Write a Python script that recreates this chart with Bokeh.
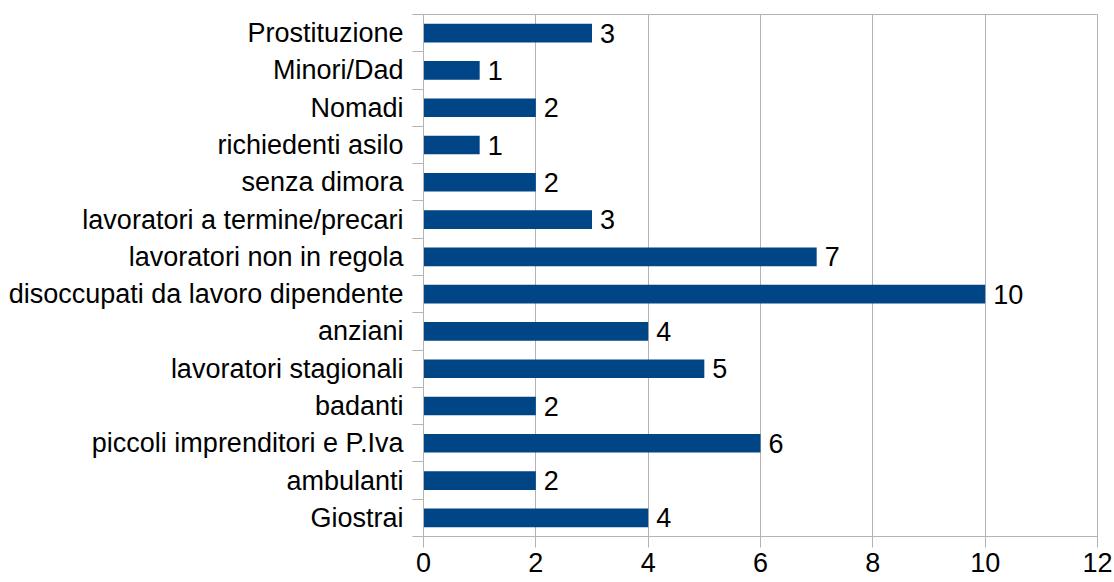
from bokeh.plotting import figure
from bokeh.models import Range1d, FixedTicker, ColumnDataSource
from bokeh.core.properties import value
from bokeh.embed import file_html
from bokeh.resources import INLINE

categories = ["Prostituzione", "Minori/Dad", "Nomadi", "richiedenti asilo", "senza dimora",
              "lavoratori a termine/precari", "lavoratori non in regola",
              "disoccupati da lavoro dipendente", "anziani", "lavoratori stagionali",
              "badanti", "piccoli imprenditori e P.Iva", "ambulanti", "Giostrai"]
counts = [3, 1, 2, 1, 2, 3, 7, 10, 4, 5, 2, 6, 2, 4]
x_ticks = [0, 2, 4, 6, 8, 10, 12]

n = len(categories)
pos = [n - i for i in range(n)]  # top category at highest position
src = ColumnDataSource(dict(y=pos, v=counts, lab=[str(c) for c in counts], cat=categories))

FONT = "Liberation Sans"
FS = "27px"
GRID = "#b3b3b3"

p = figure(width=1114, height=582, output_backend="svg", toolbar_location=None,
           x_range=Range1d(0, 12), y_range=Range1d(0.5, n + 0.5),
           min_border_left=423, min_border_right=17, min_border_top=14, min_border_bottom=46)
p.outline_line_color = GRID
p.outline_line_width = 1
p.background_fill_color = "white"
p.border_fill_color = "white"

p.hbar(y="y", left=0, right="v", height=0.5, source=src, fill_color="#004586", line_color=None)
p.text(x="v", y="y", text="lab", source=src, x_offset=8, text_baseline="middle", text_align="left",
       text_font=value(FONT), text_font_size=FS, text_color="#000000")

# x axis
xa = p.xaxis[0]
xa.ticker = FixedTicker(ticks=x_ticks, minor_ticks=[])
xa.axis_line_color = GRID
xa.major_tick_line_color = GRID
xa.major_tick_out = 11
xa.major_tick_in = 0
xa.minor_tick_line_color = None
xa.minor_tick_out = 0
xa.major_label_standoff = 5
xa.major_label_text_font = FONT
xa.major_label_text_font_size = FS
xa.major_label_text_color = "#000000"

# y axis
ya = p.yaxis[0]
ya.ticker = FixedTicker(ticks=pos, minor_ticks=[k + 0.5 for k in range(0, n + 1)])
ya.major_label_overrides = {pv: c for pv, c in zip(pos, categories)}
ya.axis_line_color = GRID
ya.major_tick_line_color = None
ya.major_tick_out = 0
ya.major_tick_in = 0
ya.minor_tick_line_color = GRID
ya.minor_tick_out = 11
ya.minor_tick_in = 0
ya.major_label_standoff = 9
ya.major_label_text_font = FONT
ya.major_label_text_font_size = FS
ya.major_label_text_color = "#000000"

p.xgrid.ticker = FixedTicker(ticks=x_ticks)
p.xgrid.grid_line_color = GRID
p.xgrid.grid_line_width = 1
p.ygrid.grid_line_color = None

open("out.html", "w").write(file_html(p, INLINE))
